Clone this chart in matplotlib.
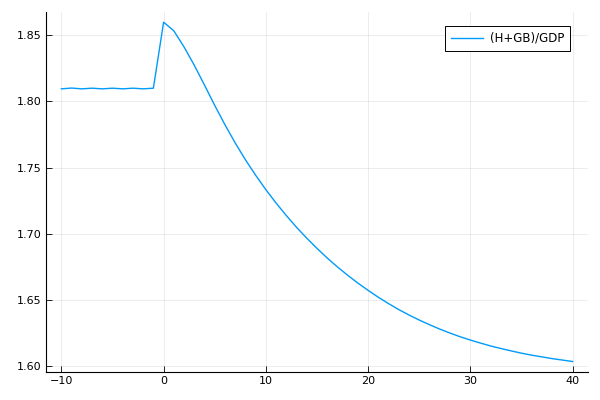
import numpy as np
import matplotlib.pyplot as plt

# horizon (periods relative to the shock)
periods = list(range(-10, 41))

# (H+GB)/GDP ratio
ratio = [
    1.8095, 1.8101, 1.8095, 1.8100, 1.8095, 1.8100, 1.8095, 1.8100, 1.8095, 1.8100,  # -10..-1
    1.8598, 1.8533, 1.8411, 1.8273, 1.8123, 1.7970, 1.7824, 1.7687, 1.7560, 1.7443,  # 0..9
    1.7334, 1.7233, 1.7139, 1.7050, 1.6968, 1.6891, 1.6818, 1.6751, 1.6688, 1.6629,  # 10..19
    1.6574, 1.6522, 1.6474, 1.6429, 1.6388, 1.6350, 1.6315, 1.6282, 1.6252, 1.6224,  # 20..29
    1.6199, 1.6176, 1.6154, 1.6135, 1.6117, 1.6100, 1.6085, 1.6072, 1.6059, 1.6048,  # 30..39
    1.6037,                                                                          # 40
]


def main():
    fig = plt.figure(figsize=(6, 4), dpi=100)
    ax = fig.add_axes([46 / 600, 28 / 400, 542 / 600, 360 / 400])

    ax.plot(periods, ratio, color='#009AFA', linewidth=1, label='(H+GB)/GDP')

    ax.set_xlim(-11.5, 41.5)
    ax.set_ylim(1.5958, 1.8675)
    ax.set_xticks([-10, 0, 10, 20, 30, 40])
    ax.set_xticklabels(['\u221210', '0', '10', '20', '30', '40'])
    ax.set_yticks([1.60, 1.65, 1.70, 1.75, 1.80, 1.85])
    ax.set_yticklabels(['1.60', '1.65', '1.70', '1.75', '1.80', '1.85'])

    ax.grid(True, color='black', alpha=0.1, linewidth=0.5)
    for side in ['top', 'right']:
        ax.spines[side].set_visible(False)
    for side in ['left', 'bottom']:
        ax.spines[side].set_linewidth(0.8)
    ax.tick_params(direction='in', length=4, width=0.6, labelsize=8, pad=3)

    leg = ax.legend(loc='upper right', bbox_to_anchor=(1 - 18 / 542, 1 - 14 / 360),
                    borderaxespad=0, fontsize=8.5, fancybox=False, framealpha=1,
                    handlelength=2.7, handletextpad=0.6, borderpad=0.5)
    leg.get_frame().set_edgecolor('black')
    leg.get_frame().set_linewidth(0.7)

    fig.savefig('out.png', dpi=100)


if __name__ == "__main__":
    main()
